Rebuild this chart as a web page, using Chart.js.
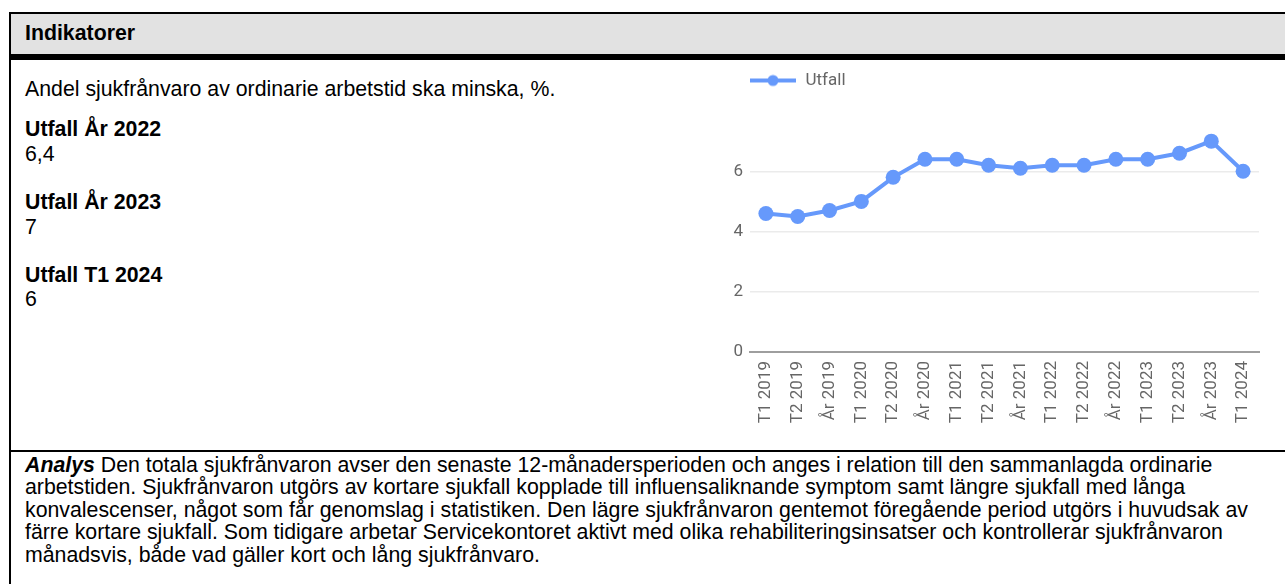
<!DOCTYPE html>
<html>
<head>
<meta charset="utf-8">
<script src="https://cdn.jsdelivr.net/npm/chart.js@4"></script>
<style>
  html, body { margin: 0; padding: 0; background: #fff; }
  body { width: 1285px; height: 584px; position: relative; overflow: hidden;
         font-family: "Liberation Sans", Arial, sans-serif; font-size: 21.3px; color: #000; }
  .rule { position: absolute; background: #000; }
  .txt { position: absolute; left: 25px; white-space: nowrap; }
  #chartBox { position: absolute; left: 720px; top: 60px; width: 565px; height: 390px; }
</style>
</head>
<body>
  <!-- table frame -->
  <div style="position:absolute;left:11px;top:14px;width:1300px;height:40px;background:#e2e2e2"></div>
  <div class="rule" style="left:9px;top:12px;width:1300px;height:2px"></div>
  <div class="rule" style="left:9px;top:54px;width:1300px;height:6px"></div>
  <div class="rule" style="left:9px;top:12px;width:2px;height:600px"></div>
  <div class="rule" style="left:9px;top:450px;width:1300px;height:2px"></div>

  <div class="txt" style="top:21px;line-height:24.4px;font-weight:bold">Indikatorer</div>
  <div class="txt" style="top:77px;line-height:24.4px">Andel sjukfrånvaro av ordinarie arbetstid ska minska, %.</div>
  <div class="txt" style="top:117px;line-height:24.6px"><b>Utfall År 2022</b><br>6,4</div>
  <div class="txt" style="top:190px;line-height:24.6px"><b>Utfall År 2023</b><br>7</div>
  <div class="txt" style="top:263px;line-height:24.2px"><b>Utfall T1 2024</b><br>6</div>

  <div class="txt" style="top:454px;line-height:22.45px">
    <b><i>Analys</i></b> Den totala sjukfrånvaron avser den senaste 12-månadersperioden och anges i relation till den sammanlagda ordinarie<br>
    arbetstiden. Sjukfrånvaron utgörs av kortare sjukfall kopplade till influensaliknande symptom samt längre sjukfall med långa<br>
    konvalescenser, något som får genomslag i statistiken. Den lägre sjukfrånvaron gentemot föregående period utgörs i huvudsak av<br>
    färre kortare sjukfall. Som tidigare arbetar Servicekontoret aktivt med olika rehabiliteringsinsatser och kontrollerar sjukfrånvaron<br>
    månadsvis, både vad gäller kort och lång sjukfrånvaro.
  </div>

  <div id="chartBox"><canvas id="chart"></canvas></div>

<script>
// data
const periods = ["T1 2019", "T2 2019", "År 2019", "T1 2020", "T2 2020", "År 2020",
                 "T1 2021", "T2 2021", "År 2021", "T1 2022", "T2 2022", "År 2022",
                 "T1 2023", "T2 2023", "År 2023", "T1 2024"];
const utfall = [4.6, 4.5, 4.7, 5.0, 5.8, 6.4, 6.4, 6.2, 6.1, 6.2, 6.2, 6.4, 6.4, 6.6, 7.0, 6.0];
const yTicks = [0, 2, 4, 6];

const blue = "#6699fb";
const gray = "#666";
const chartFont = { family: "Roboto", size: 17 };

// legend icon: line with a dot, like the original.
// chart.js centres the image in the box, so the drawing sits right of centre
function legendIcon() {
    const c = document.createElement("canvas");
    c.width = 62;
    c.height = 14;
    const g = c.getContext("2d");
    g.strokeStyle = blue;
    g.lineWidth = 4;
    g.beginPath();
    g.moveTo(16, 7);
    g.lineTo(62, 7);
    g.stroke();
    g.fillStyle = blue;
    g.beginPath();
    g.arc(39, 7, 5.5, 0, Math.PI * 2);
    g.fill();
    return c;
}
const icon = legendIcon();

const ctx = document.getElementById("chart").getContext("2d");
new Chart(ctx, {
    type: "line",
    data: {
        labels: periods,
        datasets: [{
            label: "Utfall",
            data: utfall,
            borderColor: blue,
            backgroundColor: blue,
            borderWidth: 4,
            pointRadius: 7.5,
            pointHoverRadius: 7.5,
            pointBorderWidth: 0,
            pointBackgroundColor: blue,
            fill: false,
            tension: 0
        }]
    },
    options: {
        responsive: true,
        maintainAspectRatio: false,
        animation: false,
        layout: { padding: { top: 2, left: 3, right: 26, bottom: 0 } },
        plugins: {
            tooltip: { enabled: false },
            legend: {
                position: "top",
                align: "start",
                labels: {
                    usePointStyle: true,
                    pointStyleWidth: 64,
                    padding: 10,
                    color: gray,
                    font: chartFont,
                    generateLabels(chart) {
                        const items = Chart.defaults.plugins.legend.labels.generateLabels(chart);
                        items.forEach(it => { it.pointStyle = icon; });
                        return items;
                    }
                }
            }
        },
        scales: {
            x: {
                offset: true,
                grid: { display: false, drawTicks: false },
                border: { display: true, color: "#9e9e9e", width: 2 },
                ticks: {
                    color: gray,
                    font: chartFont,
                    minRotation: 90,
                    maxRotation: 90,
                    padding: 9,
                    autoSkip: false
                },
                afterFit(scale) { scale.height = 98; }
            },
            y: {
                min: 0,
                max: 8.4,
                grid: {
                    drawTicks: false,
                    color: c => c.tick && c.tick.value === 0 ? "rgba(0,0,0,0)" : "#ebebeb",
                    lineWidth: 1.5
                },
                border: { display: false },
                ticks: {
                    color: gray,
                    font: chartFont,
                    padding: 7
                },
                afterBuildTicks(axis) { axis.ticks = yTicks.map(v => ({ value: v })); },
                afterFit(scale) { scale.width = 27; }
            }
        }
    }
});
</script>
</body>
</html>
